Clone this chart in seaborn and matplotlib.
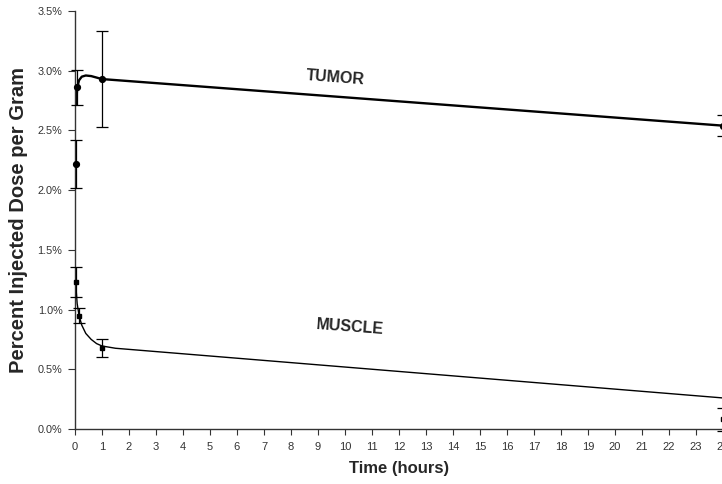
import matplotlib
matplotlib.use("Agg")
import matplotlib.pyplot as plt
import seaborn as sns
import pandas as pd
from matplotlib.ticker import FuncFormatter, MultipleLocator

# Measured points (percent injected dose per gram)
tumor_t = [0.02, 0.083, 1.0, 24.0]
tumor_v = [2.22, 2.86, 2.93, 2.54]
tumor_err = [0.20, 0.145, 0.40, 0.09]

muscle_t = [0.02, 0.15, 1.0, 24.0]
muscle_v = [1.23, 0.95, 0.68, 0.08]
muscle_err = [0.125, 0.065, 0.075, 0.10]

# Fitted curves
tumor_fit_t = [0.04, 0.083, 0.15, 0.25, 0.4, 0.6, 1.0, 24.0]
tumor_fit_v = [2.72, 2.86, 2.92, 2.95, 2.96, 2.955, 2.93, 2.54]

muscle_fit_t = [0.02, 0.08, 0.15, 0.25, 0.4, 0.6, 0.8, 1.0, 1.5, 24.0]
muscle_fit_v = [1.23, 1.05, 0.95, 0.87, 0.80, 0.75, 0.715, 0.695, 0.676, 0.26]

x_ticks = list(range(0, 25))

sns.set_style("white")
plt.rcParams['font.family'] = ['Liberation Sans', 'DejaVu Sans']

fig = plt.figure(figsize=(7.22, 4.84), dpi=100)
W, H = 722, 484
left, right, top, bottom = 75, 723, 11, 429
ax = fig.add_axes([left / W, 1 - bottom / H, (right - left) / W, (bottom - top) / H])

tdf = pd.DataFrame({"t": tumor_fit_t, "v": tumor_fit_v})
mdf = pd.DataFrame({"t": muscle_fit_t, "v": muscle_fit_v})
sns.lineplot(data=tdf, x="t", y="v", ax=ax, color="black", linewidth=1.7, sort=False)
sns.lineplot(data=mdf, x="t", y="v", ax=ax, color="black", linewidth=1.0, sort=False)

ax.errorbar(tumor_t, tumor_v, yerr=tumor_err, fmt="o", color="black", ms=4.2,
            capsize=4, elinewidth=0.9, capthick=0.9, clip_on=False, zorder=5)
ax.errorbar(muscle_t, muscle_v, yerr=muscle_err, fmt="s", color="black", ms=3,
            capsize=4, elinewidth=0.9, capthick=0.9, clip_on=False, zorder=5)

ax.set_xlim(0, 24)
ax.set_ylim(0, 3.5)
ax.set_xticks(x_ticks)
ax.yaxis.set_major_locator(MultipleLocator(0.5))
ax.yaxis.set_major_formatter(FuncFormatter(lambda v, p: f"{v:.1f}%"))

for s in ["top", "right"]:
    ax.spines[s].set_visible(False)
for s in ["left", "bottom"]:
    ax.spines[s].set_color("#333333")
    ax.spines[s].set_linewidth(1.0)

ax.tick_params(axis="y", direction="out", length=5, width=0.8, color="#333333",
               labelsize=7.8, pad=4, labelcolor="#333333", left=True)
ax.tick_params(axis="x", direction="out", length=4, width=0.8, color="#333333",
               labelsize=8, pad=5, labelcolor="#333333", bottom=True)

ax.set_xlabel("Time (hours)", fontsize=12, fontweight="bold", labelpad=7)
ax.set_ylabel("Percent Injected Dose per Gram", fontsize=14.5, fontweight="bold", labelpad=7)

ax.text(9.63, 2.94, "TUMOR", fontsize=11.5, fontweight="bold", rotation=-4.3,
        ha="center", va="center")
ax.text(10.2, 0.85, "MUSCLE", fontsize=11.5, fontweight="bold", rotation=-4.3,
        ha="center", va="center")

ax.set_facecolor("white")
fig.patch.set_facecolor("white")
fig.savefig("out.png", dpi=100)
